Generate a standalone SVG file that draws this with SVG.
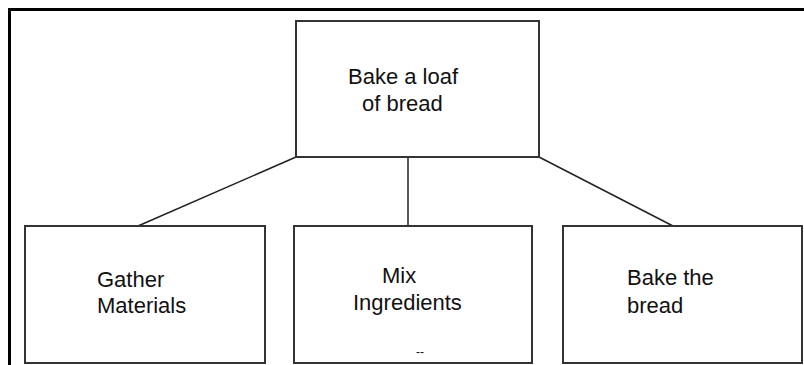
<svg xmlns="http://www.w3.org/2000/svg" width="804" height="365" viewBox="0 0 804 365">
<style>
.box{fill:#fff;stroke:#333;stroke-width:2}
.lbl{font-family:"Liberation Sans",Arial,sans-serif;font-size:22px;fill:#111}
.conn{stroke:#222;stroke-width:1.5;fill:none}
</style>
<rect width="804" height="365" fill="#fff"/>
<path d="M9.5 365 V9.5 H804" stroke="#000" stroke-width="3" fill="none"/>
<g id="connectors">
<line class="conn" x1="296" y1="157" x2="138" y2="226"/>
<line class="conn" x1="408" y1="157" x2="408" y2="226"/>
<line class="conn" x1="539" y1="157" x2="673" y2="226"/>
</g>
<g id="root">
<rect class="box" x="296" y="21" width="243" height="136"/>
<text class="lbl" x="348" y="84">Bake a loaf</text>
<text class="lbl" x="362" y="111">of bread</text>
</g>
<g id="gather">
<rect class="box" x="25" y="226" width="240" height="137"/>
<text class="lbl" x="97" y="287">Gather</text>
<text class="lbl" x="97" y="313">Materials</text>
</g>
<g id="mix">
<rect class="box" x="294" y="226" width="238" height="137"/>
<text class="lbl" x="382" y="283">Mix</text>
<text class="lbl" x="353" y="310">Ingredients</text>
<text x="416" y="356" font-family="Liberation Sans,Arial,sans-serif" font-size="12" fill="#111">--</text>
</g>
<g id="bake">
<rect class="box" x="563" y="226" width="239" height="137"/>
<text class="lbl" x="627" y="285">Bake the</text>
<text class="lbl" x="627" y="313">bread</text>
</g>
</svg>
